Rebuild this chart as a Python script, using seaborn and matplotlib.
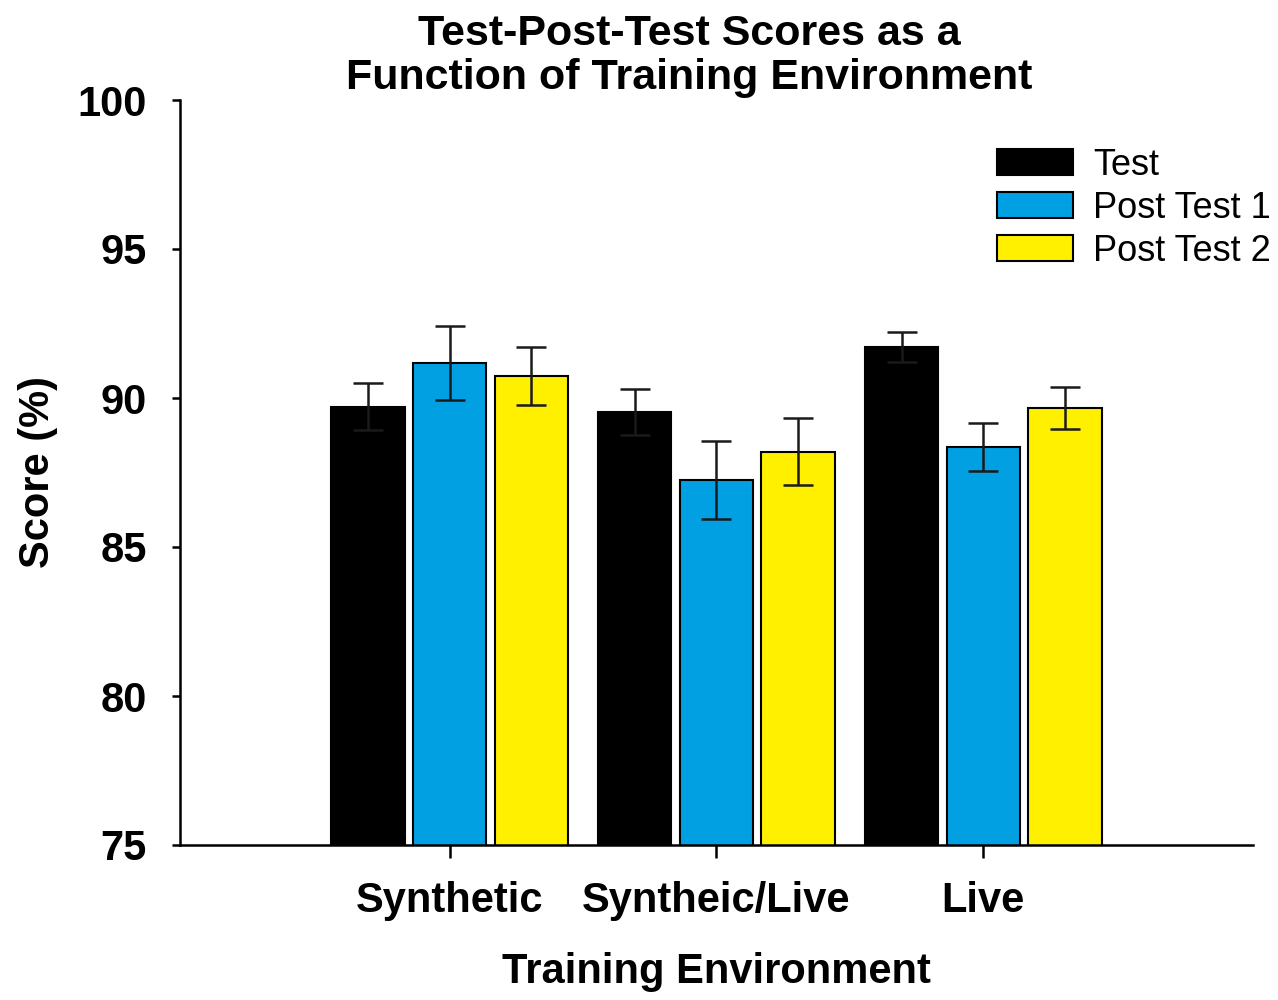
import matplotlib
matplotlib.use("Agg")
import matplotlib.pyplot as plt
import seaborn as sns
import pandas as pd
import numpy as np

categories = ["Synthetic", "Syntheic/Live", "Live"]
series = ["Test", "Post Test 1", "Post Test 2"]
test_vals = [89.71, 89.53, 91.72]
post1_vals = [91.18, 87.25, 88.36]
post2_vals = [90.74, 88.20, 89.67]
test_err = [0.78, 0.77, 0.50]
post1_err = [1.24, 1.31, 0.81]
post2_err = [0.96, 1.13, 0.71]
colors = ["#000000", "#00A0E3", "#FFF000"]
yticks = [75, 80, 85, 90, 95, 100]

sns.set_theme(style="white")
plt.rcParams["font.family"] = ["Liberation Sans", "DejaVu Sans"]
plt.rcParams["text.color"] = "black"
plt.rcParams["axes.labelcolor"] = "black"
plt.rcParams["xtick.color"] = "black"
plt.rcParams["ytick.color"] = "black"

rows = []
vals = [test_vals, post1_vals, post2_vals]
errs = [test_err, post1_err, post2_err]
for s, v, e in zip(series, vals, errs):
    for c, vv, ee in zip(categories, v, e):
        rows.append({"Environment": c, "Series": s, "Score": vv, "Err": ee})
df = pd.DataFrame(rows)

fig = plt.figure(figsize=(12.78, 10), dpi=100)
ax = fig.add_axes([0.1408, 0.155, 0.8396, 0.745])

sns.barplot(data=df, x="Environment", y="Score", hue="Series", order=categories,
            hue_order=series, palette=colors, saturation=1, width=0.92, gap=0.1,
            edgecolor="black", linewidth=1.5, errorbar=None, ax=ax)

# error bars at bar centres
for s, cont in zip(series, ax.containers):
    sub = df[df["Series"] == s].set_index("Environment").loc[categories]
    xs = [p.get_x() + p.get_width() / 2 for p in cont.patches]
    ax.errorbar(xs, sub["Score"].values, yerr=sub["Err"].values, fmt="none",
                ecolor="#1a1a1a", elinewidth=1.8, capsize=11, capthick=1.8, zorder=5)

ax.set_ylim(75, 100)
ax.set_xlim(-1.01, 3.01)
ax.set_yticks(yticks)
ax.set_yticklabels([str(t) for t in yticks], fontsize=30, fontweight="bold")
ax.set_xticks(range(len(categories)))
ax.set_xticklabels(categories, fontsize=30, fontweight="bold")
ax.tick_params(axis="both", direction="out", width=1.8, color="black",
               left=True, bottom=True)
ax.tick_params(axis="x", length=9, pad=17)
ax.tick_params(axis="y", length=6, pad=18)

for side in ["top", "right"]:
    ax.spines[side].set_visible(False)
for side in ["left", "bottom"]:
    ax.spines[side].set_color("black")
    ax.spines[side].set_linewidth(1.8)

ax.set_xlabel("Training Environment", fontsize=30, fontweight="bold", labelpad=22)
ax.set_ylabel("Score (%)", fontsize=30, fontweight="bold", labelpad=14)
ax.set_title("Test-Post-Test Scores as a\nFunction of Training Environment",
             fontsize=31, fontweight="bold", pad=8, linespacing=1.12, x=0.475)

leg = ax.legend(loc="upper right", bbox_to_anchor=(1.037, 0.965), frameon=False,
                fontsize=26, handlelength=2.1, handleheight=0.75,
                handletextpad=0.55, labelspacing=0.22, borderaxespad=0.2)
for t in leg.get_texts():
    t.set_color("black")

fig.savefig("out.png", dpi=100)
